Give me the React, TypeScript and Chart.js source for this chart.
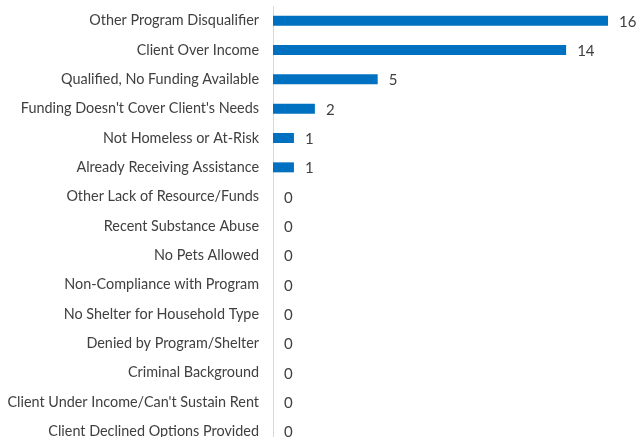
import React, { useEffect, useRef } from "react";
import { Chart, registerables } from "chart.js";

Chart.register(...registerables);

const categories = [
  "Other Program Disqualifier",
  "Client Over Income",
  "Qualified, No Funding Available",
  "Funding Doesn't Cover Client's Needs",
  "Not Homeless or At-Risk",
  "Already Receiving Assistance",
  "Other Lack of Resource/Funds",
  "Recent Substance Abuse",
  "No Pets Allowed",
  "Non-Compliance with Program",
  "No Shelter for Household Type",
  "Denied by Program/Shelter",
  "Criminal Background",
  "Client Under Income/Can't Sustain Rent",
  "Client Declined Options Provided",
];
const values = [16, 14, 5, 2, 1, 1, 0, 0, 0, 0, 0, 0, 0, 0, 0];

const FONT = "Lato, 'Open Sans', sans-serif";

const valueLabels = {
  id: "valueLabels",
  afterDatasetsDraw(chart: any) {
    const ctx = chart.ctx;
    const meta = chart.getDatasetMeta(0);
    ctx.save();
    ctx.fillStyle = "#404040";
    ctx.font = `15px ${FONT}`;
    ctx.textAlign = "left";
    ctx.textBaseline = "middle";
    meta.data.forEach((el: any, i: number) => {
      ctx.fillText(String(values[i]), el.x + 11, el.y + 1);
    });
    ctx.restore();
  },
};

export default function App() {
  const ref = useRef<HTMLCanvasElement>(null);
  useEffect(() => {
    if (!ref.current) return;
    const chart = new Chart(ref.current, {
      type: "bar",
      data: {
        labels: categories,
        datasets: [
          {
            data: values,
            backgroundColor: "#0070C0",
            borderWidth: 0,
            categoryPercentage: 1,
            barPercentage: 0.34,
          },
        ],
      },
      options: {
        indexAxis: "y",
        animation: false,
        responsive: false,
        maintainAspectRatio: false,
        layout: { padding: { top: 6, right: 31, bottom: 4, left: 0 } },
        plugins: { legend: { display: false }, tooltip: { enabled: false } },
        scales: {
          x: { display: false, min: 0, max: 16 },
          y: {
            grid: { display: false, drawTicks: false },
            border: { display: true, color: "#D9D9D9", width: 1 },
            ticks: {
              color: "#404040",
              font: { family: FONT, size: 14.4 },
              padding: 14,
              autoSkip: false,
            },
            afterFit(scale: any) {
              scale.width = 273;
              scale.paddingTop = 0;
              scale.paddingBottom = 0;
            },
          },
        },
      },
      plugins: [valueLabels],
    });
    return () => chart.destroy();
  }, []);
  return (
    <div style={{ position: "fixed", left: 0, top: 0, width: 639, height: 437, overflow: "hidden", background: "#fff" }}>
      <canvas ref={ref} width={639} height={450} style={{ display: "block" }} />
    </div>
  );
}
